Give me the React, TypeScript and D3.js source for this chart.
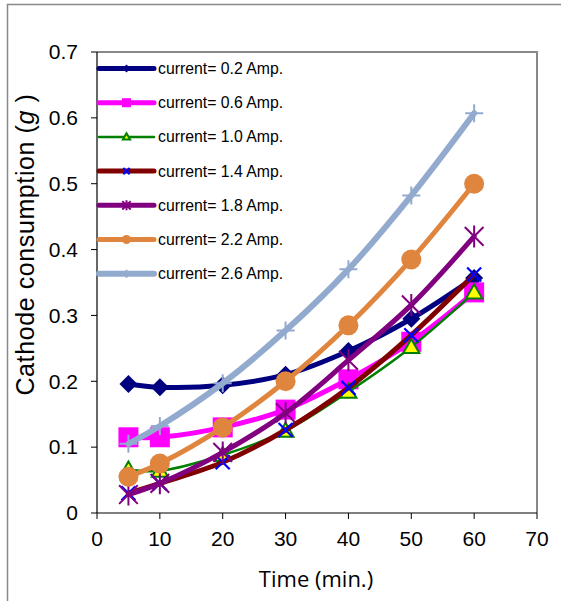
import React from "react";
import * as d3 from "d3";

const times = [5, 10, 20, 30, 40, 50, 60];
const a02 = [0.196, 0.191, 0.194, 0.21, 0.246, 0.295, 0.357];
const a06 = [0.115, 0.115, 0.13, 0.157, 0.203, 0.26, 0.335];
const a10 = [0.066, 0.064, 0.088, 0.125, 0.184, 0.252, 0.335];
const a14 = [0.03, 0.045, 0.077, 0.126, 0.19, 0.27, 0.362];
const a18 = [0.028, 0.045, 0.092, 0.152, 0.232, 0.316, 0.42];
const a22 = [0.055, 0.075, 0.13, 0.2, 0.285, 0.385, 0.5];
const a26 = [0.105, 0.132, 0.197, 0.277, 0.37, 0.482, 0.607];

const seriesNames = [
  "current= 0.2 Amp.",
  "current= 0.6 Amp.",
  "current= 1.0 Amp.",
  "current= 1.4 Amp.",
  "current= 1.8 Amp.",
  "current= 2.2 Amp.",
  "current= 2.6 Amp.",
];
const xTicks = [0, 10, 20, 30, 40, 50, 60, 70];
const yTicks = [0, 0.1, 0.2, 0.3, 0.4, 0.5, 0.6, 0.7];

type MarkerKind = "diamond" | "square" | "triangle" | "x" | "star" | "circle" | "plus";
const styles: { color: string; width: number; marker: MarkerKind; size: number; fill: string; mstroke: string }[] = [
  { color: "#000080", width: 5, marker: "diamond", size: 9, fill: "#000080", mstroke: "#000080" },
  { color: "#FF00FF", width: 5, marker: "square", size: 10, fill: "#FF00FF", mstroke: "#FF00FF" },
  { color: "#008000", width: 2.5, marker: "triangle", size: 8, fill: "#FFFF00", mstroke: "#008000" },
  { color: "#800000", width: 5, marker: "x", size: 7, fill: "none", mstroke: "#0000FF" },
  { color: "#800080", width: 5, marker: "star", size: 11, fill: "none", mstroke: "#800080" },
  { color: "#E0853D", width: 5, marker: "circle", size: 10, fill: "#E0853D", mstroke: "#E0853D" },
  { color: "#93AACF", width: 6, marker: "plus", size: 9, fill: "none", mstroke: "#93AACF" },
];

const data = [a02, a06, a10, a14, a18, a22, a26];

function Marker({ kind, x, y, s, fill, stroke }: { kind: MarkerKind; x: number; y: number; s: number; fill: string; stroke: string }) {
  switch (kind) {
    case "diamond":
      return <path d={`M${x},${y - s}L${x + s},${y}L${x},${y + s}L${x - s},${y}Z`} fill={fill} />;
    case "square":
      return <rect x={x - s} y={y - s} width={2 * s} height={2 * s} fill={fill} />;
    case "triangle":
      return (
        <path
          d={`M${x},${y - s}L${x + s},${y + s * 0.75}L${x - s},${y + s * 0.75}Z`}
          fill={fill}
          stroke={stroke}
          strokeWidth={2}
        />
      );
    case "x":
      return (
        <path d={`M${x - s},${y - s}L${x + s},${y + s}M${x - s},${y + s}L${x + s},${y - s}`} stroke={stroke} strokeWidth={2.2} />
      );
    case "star": {
      const d = s * 0.85;
      return (
        <path
          d={`M${x - d},${y - d}L${x + d},${y + d}M${x - d},${y + d}L${x + d},${y - d}M${x},${y - s}L${x},${y + s}`}
          stroke={stroke}
          strokeWidth={2}
        />
      );
    }
    case "circle":
      return <circle cx={x} cy={y} r={s} fill={fill} />;
    case "plus":
      return <path d={`M${x - s},${y}L${x + s},${y}M${x},${y - s}L${x},${y + s}`} stroke={stroke} strokeWidth={2} />;
  }
  return null;
}

export default function App() {
  const W = 561;
  const H = 601;
  const left = 97;
  const right = 537;
  const top = 52;
  const bottom = 513;
  const x = d3.scaleLinear().domain([0, 70]).range([left, right]);
  const y = d3.scaleLinear().domain([0, 0.7]).range([bottom, top]);
  const line = d3
    .line<[number, number]>()
    .x((d) => x(d[0]))
    .y((d) => y(d[1]))
    .curve(d3.curveCatmullRom.alpha(0.5));

  const font = "'Liberation Sans', Arial, sans-serif";

  const legX1 = 99;
  const legX2 = 154;
  const legY0 = 68.5;
  const legDy = 34.2;

  return (
    <svg width={W} height={H} style={{ position: "absolute", left: 0, top: 0 }} fontFamily={font}>
      <rect x={0} y={0} width={W} height={H} fill="#fff" />
      {/* outer frame */}
      <path d={`M7.5,${H}V4.5H${W}`} fill="none" stroke="#888" strokeWidth={1.5} />
      {/* plot frame gray */}
      <path d={`M${left},${top}H${right}V${bottom}`} fill="none" stroke="#888" strokeWidth={2} />
      {/* axes */}
      <line x1={left} x2={left} y1={top} y2={bottom} stroke="#000" strokeWidth={1.2} />
      <line x1={left} x2={right} y1={bottom} y2={bottom} stroke="#000" strokeWidth={1.2} />
      {yTicks.map((t) => (
        <g key={"y" + t}>
          <line x1={left - 6} x2={left} y1={y(t)} y2={y(t)} stroke="#000" strokeWidth={1} />
          <text x={78} y={y(t)} dy="0.35em" textAnchor="end" fontSize={21}>
            {t === 0 ? "0" : t.toFixed(1)}
          </text>
        </g>
      ))}
      {xTicks.map((t) => (
        <g key={"x" + t}>
          <line x1={x(t)} x2={x(t)} y1={bottom} y2={bottom + 6} stroke="#000" strokeWidth={1} />
          <text x={x(t)} y={546} textAnchor="middle" fontSize={21}>
            {t}
          </text>
        </g>
      ))}
      <text x={316} y={587} textAnchor="middle" fontSize={22} fontFamily="'Open Sans', sans-serif">
        Time (min.)
      </text>
      <text transform={`translate(34,244.5) rotate(-90)`} textAnchor="middle" fontSize={25} letterSpacing={0.6}>
        Cathode consumption (<tspan fontStyle="italic">g</tspan> )
      </text>

      {/* series */}
      {data.map((vals, i) => {
        const st = styles[i];
        const pts = times.map((t, j) => [t, vals[j]] as [number, number]);
        return (
          <g key={"s" + i}>
            <path d={line(pts) || ""} fill="none" stroke={st.color} strokeWidth={st.width} strokeLinejoin="round" strokeLinecap="round" />
            {pts.map((p, j) => (
              <Marker key={j} kind={st.marker} x={x(p[0])} y={y(p[1])} s={st.size} fill={st.fill} stroke={st.mstroke} />
            ))}
          </g>
        );
      })}

      {/* legend */}
      {seriesNames.map((name, i) => {
        const st = styles[i];
        const ly = legY0 + i * legDy;
        const mx = (legX1 + legX2) / 2;
        return (
          <g key={"l" + i}>
            <line x1={legX1} x2={legX2} y1={ly} y2={ly} stroke={st.color} strokeWidth={st.width} strokeLinecap="round" />
            <Marker kind={st.marker} x={mx} y={ly} s={st.size * 0.45} fill={st.fill} stroke={st.mstroke} />
            <text x={158} y={ly} dy="0.35em" fontSize={15.8}>
              {name}
            </text>
          </g>
        );
      })}
    </svg>
  );
}
